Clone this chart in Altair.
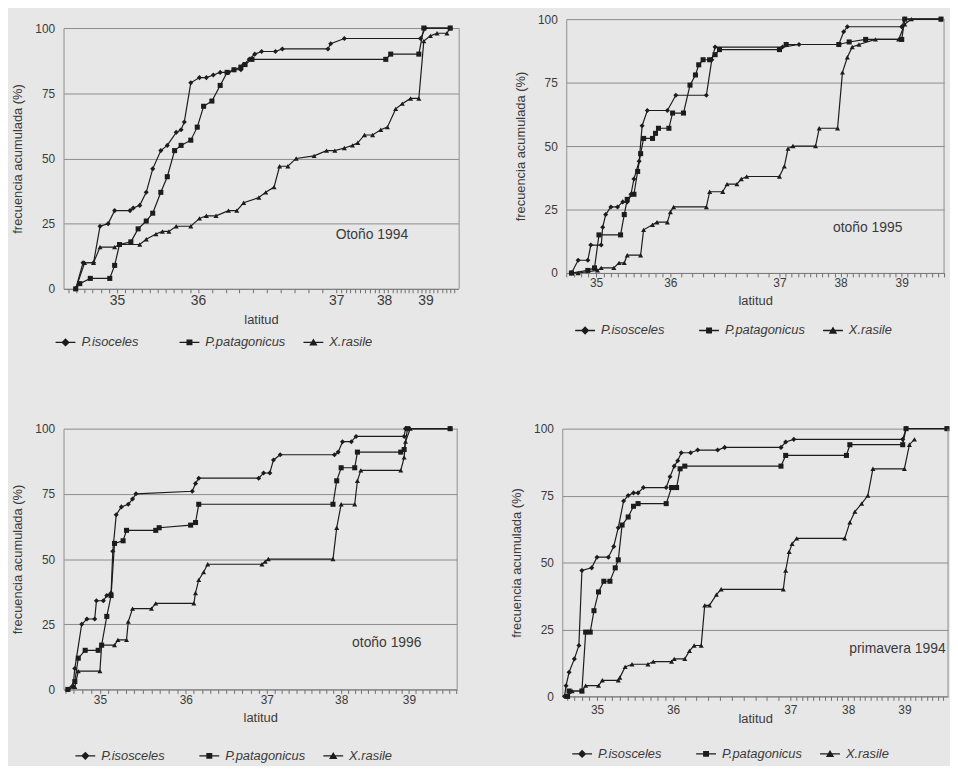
import altair as alt
import pandas as pd
import numpy as np

FONT = "Liberation Sans"
INK = "#1c1c1c"
GRID = "#8c8c8c"
FRAME = "#8f8f8f"
BG = "#e7e7e7"
TXT = "#3a3a3a"

Y_TICKS = [0, 25, 50, 75, 100]
Y_TITLE = "frecuencia acumulada (%)"
X_TITLE = "latitud"
LABELED_LATS = [35, 36, 37, 38, 39]

NAMES_1 = ["P.isoceles", "P.patagonicus", "X.rasile"]
NAMES_N = ["P.isosceles", "P.patagonicus", "X.rasile"]
SHAPES = ["diamond", "square", "triangle-up"]
DASH = "M-1,-0.07L1,-0.07L1,0.07L-1,0.07Z"
LEG_PATHS = [
    DASH + "M0,-0.42L0.42,0L0,0.42L-0.42,0Z",
    DASH + "M-0.3,-0.3L0.3,-0.3L0.3,0.3L-0.3,0.3Z",
    DASH + "M0,-0.4L0.42,0.32L-0.42,0.32Z",
]

# ---------------- Otoño 1994 ----------------
o94_iso_lat = [34.49, 34.58, 34.71, 34.79, 34.89, 34.97, 35.16, 35.20, 35.28, 35.36, 35.44, 35.54, 35.62, 35.73, 35.79, 35.83, 35.91, 36.01, 36.06, 36.11, 36.16, 36.22, 36.26, 36.31, 36.33, 36.37, 36.41, 36.46, 36.56, 36.61, 36.94, 36.96, 37.17, 38.88, 39.0, 39.6]
o94_iso_pct = [0, 10, 10, 24, 25, 30, 30, 31, 32, 37, 46, 53, 55, 60, 61, 64, 79, 81, 81, 82, 83, 83, 84, 84, 86, 88, 90, 91, 91, 92, 92, 94, 96, 96, 100, 100]
o94_pat_lat = [34.49, 34.54, 34.67, 34.91, 34.97, 35.03, 35.17, 35.26, 35.36, 35.44, 35.54, 35.62, 35.71, 35.79, 35.91, 35.99, 36.04, 36.10, 36.16, 36.21, 36.26, 36.31, 36.34, 36.39, 38.04, 38.16, 38.84, 38.96, 39.6]
o94_pat_pct = [0, 2, 4, 4, 9, 17, 18, 23, 26, 29, 37, 43, 53, 55, 57, 62, 70, 72, 78, 83, 84, 85, 86, 88, 88, 90, 90, 100, 100]
o94_ras_lat = [34.49, 34.60, 34.71, 34.79, 34.97, 35.03, 35.28, 35.36, 35.48, 35.56, 35.64, 35.73, 35.91, 36.01, 36.06, 36.13, 36.22, 36.28, 36.33, 36.44, 36.49, 36.55, 36.59, 36.65, 36.71, 36.84, 36.93, 36.99, 37.17, 37.34, 37.45, 37.59, 37.76, 37.93, 38.08, 38.28, 38.44, 38.64, 38.84, 38.96, 39.12, 39.28, 39.52, 39.6]
o94_ras_pct = [0, 10, 10, 16, 16, 17, 17, 19, 21, 22, 22, 24, 24, 27, 28, 28, 30, 30, 33, 35, 37, 39, 47, 47, 50, 51, 53, 53, 54, 55, 56, 59, 59, 61, 62, 69, 71, 73, 73, 95, 97, 98, 98, 100]

# ---------------- otoño 1995 ----------------
o95_iso_lat = [34.67, 34.76, 34.89, 34.93, 35.07, 35.09, 35.13, 35.20, 35.29, 35.36, 35.42, 35.47, 35.51, 35.58, 35.62, 35.69, 35.96, 36.05, 36.33, 36.38, 36.41, 37.05, 37.32, 37.97, 38.05, 38.11, 39.0, 39.05, 39.65]
o95_iso_pct = [0, 5, 5, 11, 11, 18, 23, 26, 26, 28, 28, 31, 37, 44, 58, 64, 64, 70, 70, 84, 89, 89, 90, 90, 95, 97, 97, 100, 100]
o95_pat_lat = [34.67, 34.89, 34.98, 35.04, 35.33, 35.38, 35.42, 35.51, 35.56, 35.60, 35.64, 35.76, 35.80, 35.84, 35.98, 36.02, 36.12, 36.18, 36.23, 36.26, 36.30, 36.36, 36.41, 36.45, 37.0, 37.11, 37.97, 38.14, 38.41, 39.0, 39.05, 39.65]
o95_pat_pct = [0, 1, 2, 15, 15, 23, 29, 31, 40, 47, 53, 53, 55, 57, 57, 63, 63, 74, 78, 82, 84, 84, 86, 88, 88, 90, 90, 91, 92, 92, 100, 100]
o95_ras_lat = [34.67, 34.76, 35.02, 35.07, 35.24, 35.31, 35.38, 35.42, 35.60, 35.64, 35.76, 35.82, 35.96, 36.0, 36.03, 36.33, 36.36, 36.48, 36.52, 36.61, 36.65, 36.70, 37.0, 37.08, 37.14, 37.22, 37.59, 37.65, 37.95, 38.03, 38.11, 38.19, 38.30, 38.57, 38.95, 39.05, 39.16, 39.65]
o95_ras_pct = [0, 0, 1, 2, 2, 4, 4, 7, 7, 17, 19, 20, 20, 24, 26, 26, 32, 32, 35, 35, 37, 38, 38, 42, 49, 50, 50, 57, 57, 79, 85, 89, 90, 92, 92, 98, 100, 100]

# ---------------- otoño 1996 ----------------
o96_iso_lat = [34.63, 34.69, 34.71, 34.79, 34.85, 34.94, 34.96, 35.04, 35.08, 35.13, 35.15, 35.19, 35.25, 35.33, 35.38, 35.42, 36.08, 36.12, 36.16, 36.90, 36.96, 37.04, 37.09, 37.18, 37.91, 37.96, 38.02, 38.15, 38.22, 38.93, 38.95, 39.61]
o96_iso_pct = [0, 1, 8, 25, 27, 27, 34, 34, 36, 37, 53, 67, 70, 71, 73, 75, 76, 79, 81, 81, 83, 83, 88, 90, 90, 91, 95, 95, 97, 97, 100, 100]
o96_pat_lat = [34.63, 34.71, 34.75, 34.83, 34.98, 35.02, 35.08, 35.13, 35.17, 35.27, 35.31, 35.65, 35.69, 36.06, 36.12, 36.16, 37.89, 37.94, 38.0, 38.20, 38.24, 38.88, 38.93, 38.98, 39.61]
o96_pat_pct = [0, 3, 12, 15, 15, 17, 28, 36, 56, 57, 61, 61, 62, 63, 64, 71, 71, 80, 85, 85, 91, 91, 92, 100, 100]
o96_ras_lat = [34.63, 34.71, 34.75, 35.0, 35.02, 35.17, 35.21, 35.31, 35.33, 35.38, 35.60, 35.65, 36.10, 36.12, 36.16, 36.22, 36.27, 36.94, 36.98, 37.02, 37.89, 37.94, 38.0, 38.20, 38.24, 38.29, 38.88, 38.93, 38.95, 39.02, 39.61]
o96_ras_pct = [0, 1, 7, 7, 17, 17, 19, 19, 26, 31, 31, 33, 33, 37, 42, 45, 48, 48, 49, 50, 50, 62, 71, 71, 80, 84, 84, 89, 95, 100, 100]

# ---------------- primavera 1994 ----------------
p94_iso_lat = [34.57, 34.59, 34.63, 34.70, 34.76, 34.80, 34.93, 35.0, 35.15, 35.22, 35.28, 35.35, 35.41, 35.48, 35.54, 35.61, 35.91, 35.96, 36.01, 36.04, 36.07, 36.15, 36.21, 36.38, 36.44, 36.92, 36.96, 37.06, 38.97, 39.03, 39.76]
p94_iso_pct = [0, 4, 9, 14, 19, 47, 48, 52, 52, 56, 63, 73, 75, 76, 76, 78, 78, 82, 86, 88, 91, 91, 92, 92, 93, 93, 95, 96, 96, 100, 100]
p94_pat_lat = [34.61, 34.63, 34.80, 34.85, 34.91, 34.96, 35.02, 35.09, 35.17, 35.24, 35.28, 35.33, 35.41, 35.48, 35.54, 35.91, 35.98, 36.03, 36.06, 36.10, 36.92, 36.96, 37.97, 38.03, 38.97, 39.03, 39.76]
p94_pat_pct = [0, 2, 2, 24, 24, 32, 39, 43, 43, 48, 51, 64, 67, 71, 72, 72, 78, 78, 85, 86, 86, 90, 90, 94, 94, 100, 100]
p94_ras_lat = [34.61, 34.67, 34.80, 34.85, 35.02, 35.07, 35.28, 35.30, 35.37, 35.46, 35.67, 35.74, 35.98, 36.01, 36.10, 36.14, 36.18, 36.24, 36.27, 36.31, 36.37, 36.41, 36.94, 36.96, 36.99, 37.03, 37.11, 37.94, 38.03, 38.12, 38.24, 38.35, 38.44, 39.0, 39.09, 39.18]
p94_ras_pct = [0, 2, 2, 4, 4, 6, 6, 7, 11, 12, 12, 13, 13, 14, 14, 17, 19, 19, 34, 34, 38, 40, 40, 47, 54, 57, 59, 59, 65, 69, 72, 75, 85, 85, 94, 96]

LABEL_EXPR = ("abs(datum.value - round(datum.value)) < 0.01 && datum.value >= 35 && "
              "datum.value <= 39 ? format(round(datum.value), 'd') : ''")


def panel(lats, pcts, names, x_dom, x_rng, width, height, y_rng, label, label_xy,
          leg_xy, xlab_size, xlab_pad, xtitle_pad, ylab_size):
    rows = []
    for nm, la, pc in zip(names, lats, pcts):
        for i, (a, b) in enumerate(zip(la, pc)):
            rows.append({"especie": nm, "latitud": a, "frec": b, "orden": i})
    df = pd.DataFrame(rows)
    minor = [round(float(v), 1) for v in np.arange(np.ceil(x_dom[0] * 10) / 10, x_dom[-1], 0.1)]
    xsc = alt.Scale(type="linear", domain=x_dom, range=x_rng, nice=False, zero=False)
    ysc = alt.Scale(domain=[0, 100], range=y_rng, nice=False, zero=False)
    xax = alt.Axis(values=minor, labelExpr=LABEL_EXPR, title=X_TITLE, grid=False,
                   ticks=True, tickSize=4, tickColor="#6e6e6e", tickWidth=1, tickOpacity=1,
                   domainColor="#7a7a7a",
                   labelFontSize=xlab_size, labelPadding=xlab_pad, titlePadding=xtitle_pad,
                   labelOverlap=False, labelFlush=False, titleFontSize=13)
    yax = alt.Axis(values=Y_TICKS, grid=True, gridColor=GRID, gridWidth=1, ticks=False,
                   domainColor=FRAME, labelPadding=9, title=Y_TITLE, titlePadding=10,
                   labelFontSize=ylab_size, titleFontSize=13)
    X = alt.X("latitud:Q", scale=xsc, axis=xax)
    Y = alt.Y("frec:Q", scale=ysc, axis=yax)
    base = alt.Chart(df)
    lines = base.mark_line(color=INK, strokeWidth=1.2).encode(
        x=X, y=Y, detail="especie:N", order="orden:Q")
    pts = base.mark_point(filled=True, color=INK, size=26, opacity=1).encode(
        x=X, y=Y,
        shape=alt.Shape("especie:N", scale=alt.Scale(domain=names, range=SHAPES), legend=None))
    leg = base.transform_filter("false").mark_point(
        filled=True, color=INK, size=400, opacity=1).encode(
        x=X, y=Y,
        shape=alt.Shape("especie:N", scale=alt.Scale(domain=names, range=LEG_PATHS),
                        legend=alt.Legend(orient="none", legendX=leg_xy[0], legendY=leg_xy[1],
                                          direction="horizontal", title=None,
                                          labelFont=FONT, labelFontSize=13,
                                          labelFontStyle="italic", labelColor=TXT,
                                          symbolSize=400, symbolStrokeWidth=0,
                                          symbolFillColor=INK,
                                          symbolOpacity=1, labelOffset=6,
                                          columnPadding=18, gridAlign="all")))
    frame = alt.Chart(pd.DataFrame({"k": [0]})).mark_rule(color=FRAME, strokeWidth=1).encode(
        x=alt.value(width), y=alt.value(y_rng[1]), y2=alt.value(y_rng[0]))
    txt = alt.Chart(pd.DataFrame({"t": [label]})).mark_text(
        font=FONT, fontSize=14, color=TXT).encode(
        text="t:N", x=alt.value(label_xy[0]), y=alt.value(label_xy[1]))
    return alt.layer(lines, pts, leg, frame, txt).resolve_scale(
        shape="independent").resolve_legend(shape="independent").properties(
        width=width, height=height)


p1 = panel([o94_iso_lat, o94_pat_lat, o94_ras_lat], [o94_iso_pct, o94_pat_pct, o94_ras_pct],
           NAMES_1, [34.34, 35, 36, 37, 38, 39, 39.8], [0, 54, 135.7, 275, 323.3, 365, 398.3],
           399, 272, [272, 9], "Otoño 1994", (311, 218), (-8, 316), 14, 1, 6, 12)
p2 = panel([o95_iso_lat, o95_pat_lat, o95_ras_lat], [o95_iso_pct, o95_pat_pct, o95_ras_pct],
           NAMES_N, [34.6, 35, 36, 37, 38, 39, 39.7], [0, 30, 105, 215, 276.7, 338.3, 381],
           381, 256, [256, 0], "otoño 1995", (304, 211), (9, 304), 12, 1, 6, 12)
p3 = panel([o96_iso_lat, o96_pat_lat, o96_ras_lat], [o96_iso_pct, o96_pat_pct, o96_ras_pct],
           NAMES_N, [34.58, 35, 36, 37, 38, 39, 39.71], [0, 36.7, 123.3, 205, 280, 348.3, 396.7],
           397, 263, [263, 0], "otoño 1996", (326, 216), (12, 320), 12, 1, 6, 12)
p4 = panel([p94_iso_lat, p94_pat_lat, p94_ras_lat], [p94_iso_pct, p94_pat_pct, p94_ras_pct],
           NAMES_N, [34.54, 35, 36, 37, 38, 39, 39.78], [0, 35, 111.7, 230, 288.3, 345, 389],
           389, 270, [270, 0], "primavera 1994", (338, 222), (10, 318), 12, 4, -3, 12)

row1 = alt.hconcat(p1, p2, spacing=54).resolve_scale(shape="independent").resolve_legend(shape="independent")
row2 = alt.hconcat(p3, p4, spacing=52).resolve_scale(shape="independent").resolve_legend(shape="independent")

chart = alt.vconcat(row1, row2, spacing=74).resolve_scale(
    shape="independent").resolve_legend(shape="independent").properties(
    background=BG, padding={"left": 3, "top": 2, "right": 0, "bottom": 0}
).configure_view(stroke=None).configure_axis(
    labelFont=FONT, titleFont=FONT, labelColor=TXT, titleColor=TXT, titleFontWeight="normal"
)

chart.save("out.html", embed_options={"renderer": "svg", "actions": False})
